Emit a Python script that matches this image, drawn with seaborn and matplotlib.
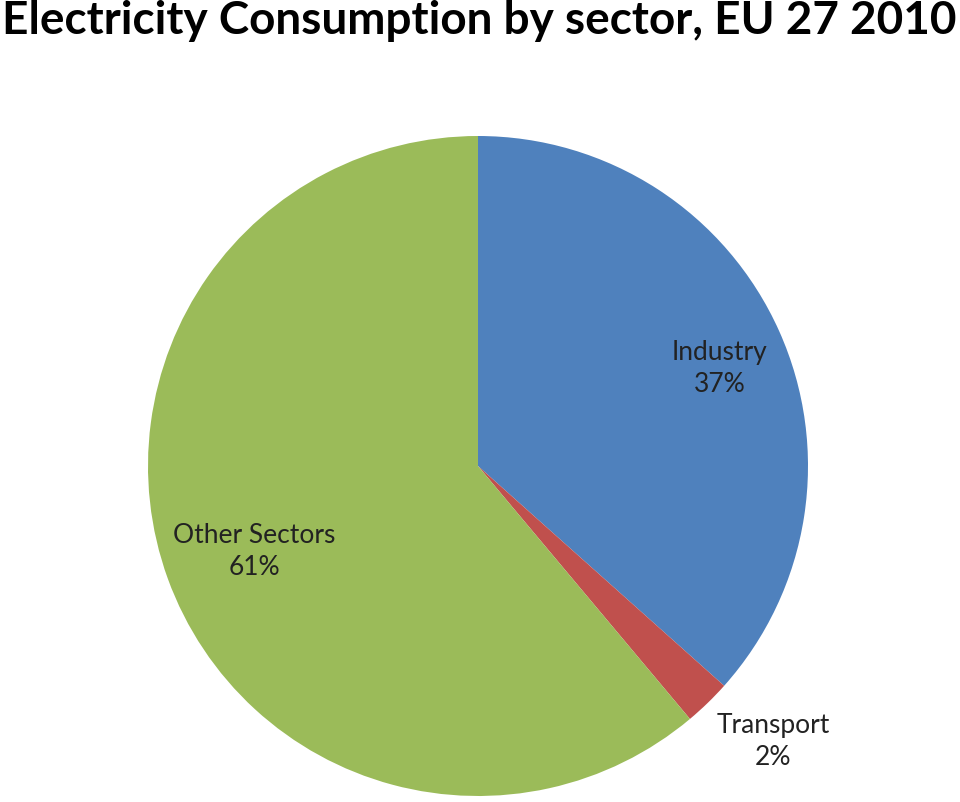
import matplotlib
matplotlib.use("Agg")
import matplotlib.pyplot as plt
import seaborn as sns
import numpy as np

sectors = ["Industry", "Transport", "Other Sectors"]
shares = [36.6, 2.3, 61.1]
pct_labels = ["37%", "2%", "61%"]
colors_hex = ["#4F81BD", "#C0504D", "#9BBB59"]
label_dist = [0.79, 1.22, 0.725]
label_turn = [-2.0, 3.0, 0.8]

sns.set_theme(style="white")
plt.rcParams["font.family"] = ["Lato", "DejaVu Sans"]
palette = sns.color_palette(colors_hex)

fig = plt.figure(figsize=(9.6, 8.03), dpi=100)
fig.patch.set_facecolor("white")
W, H = 960, 803
cx, cy, r = 478, 467, 330
ax = fig.add_axes([(cx - r) / W, (H - cy - r) / H, 2 * r / W, 2 * r / H])

wedges, _ = ax.pie(shares, colors=palette, startangle=90, counterclock=False,
                   radius=1.0, wedgeprops=dict(linewidth=0))
for w, name, pct, d, t in zip(wedges, sectors, pct_labels, label_dist, label_turn):
    ang = np.deg2rad((w.theta1 + w.theta2) / 2 + t)
    ax.text(d * np.cos(ang), d * np.sin(ang), f"{name}\n{pct}", ha="center",
            va="center", fontsize=19, color="#222222", linespacing=1.35)
ax.set_xlim(-1, 1)
ax.set_ylim(-1, 1)
ax.set_aspect("equal")
ax.axis("off")

fig.text(0.499, 1.0, "Electricity Consumption by sector, EU 27 2010", ha="center",
         va="top", fontsize=33, fontweight="bold", color="black")

fig.savefig("out.png", dpi=100, facecolor="white")
